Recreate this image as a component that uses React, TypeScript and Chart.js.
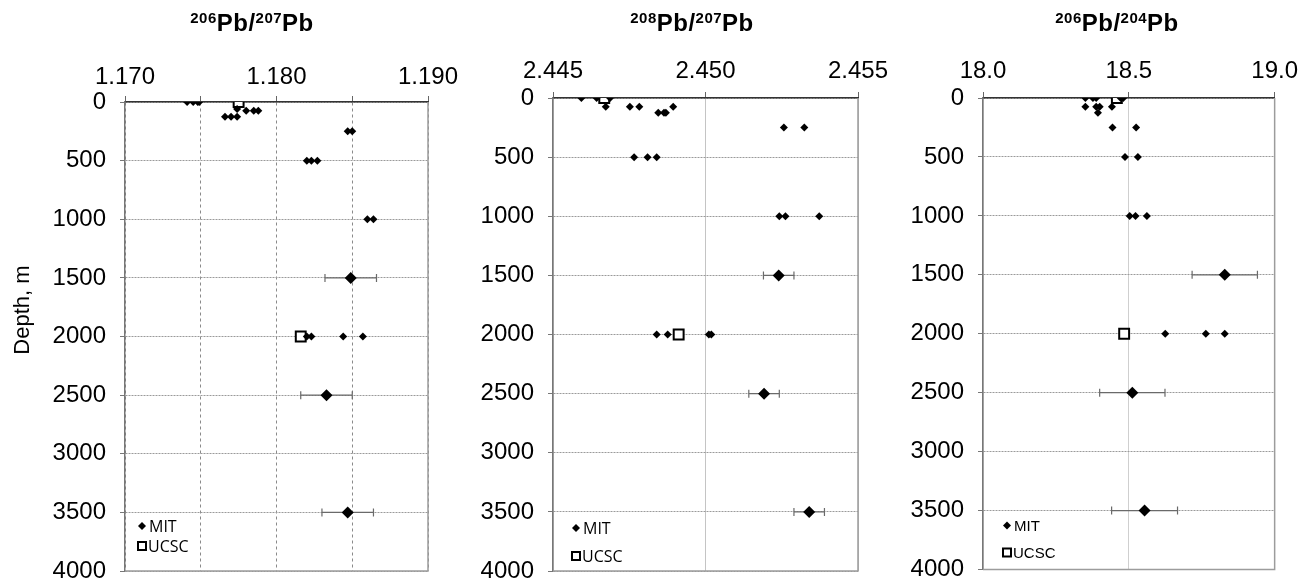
import React, { useEffect, useRef } from "react";
import { Chart, registerables } from "chart.js";

Chart.register(...registerables);

const FONT = '"Liberation Sans", Arial, Helvetica, sans-serif';
const CANVAS_H = 600;

// ---------- shared depth axis ----------
const depthTickValues = [0, 500, 1000, 1500, 2000, 2500, 3000, 3500, 4000];
const depthTickLabels = ["0", "500", "1000", "1500", "2000", "2500", "3000", "3500", "4000"];
const legendLabels = ["MIT", "UCSC"];

// ---------- Panel 1: 206Pb/207Pb ----------
const p1Isotopes = ["206", "207"];
const p1XTickValues = [1.17, 1.175, 1.18, 1.185, 1.19];
const p1XTickLabels = ["1.170", "", "1.180", "", "1.190"];
const p1MitRatio = [1.1741, 1.1745, 1.1748, 1.1749, 1.1774, 1.178, 1.1785, 1.1788, 1.1766, 1.177, 1.1774, 1.1847, 1.185, 1.182, 1.1823, 1.1827, 1.186, 1.1864, 1.182, 1.1823, 1.1844, 1.1857];
const p1MitDepth = [0, 0, 0, 0, 60, 75, 75, 75, 125, 125, 125, 250, 250, 500, 500, 500, 1000, 1000, 2000, 2000, 2000, 2000];
const p1MeanRatio = [1.1849, 1.1833, 1.1847];
const p1MeanDepth = [1500, 2500, 3500];
const p1MeanErr = [0.0017, 0.0017, 0.0017];
const p1UcscRatio = [1.1775, 1.1816];
const p1UcscDepth = [0, 2000];

// ---------- Panel 2: 208Pb/207Pb ----------
const p2Isotopes = ["208", "207"];
const p2XTickValues = [2.445, 2.45, 2.455];
const p2XTickLabels = ["2.445", "2.450", "2.455"];
const p2MitRatio = [2.44593, 2.44643, 2.44687, 2.44673, 2.44752, 2.44783, 2.44894, 2.44845, 2.44864, 2.4487, 2.45257, 2.45324, 2.44766, 2.4481, 2.4484, 2.45242, 2.45262, 2.45373, 2.4484, 2.44876, 2.45011, 2.45019];
const p2MitDepth = [0, 0, 0, 75, 75, 75, 75, 125, 125, 125, 250, 250, 500, 500, 500, 1000, 1000, 1000, 2000, 2000, 2000, 2000];
const p2MeanRatio = [2.4524, 2.45192, 2.4534];
const p2MeanDepth = [1500, 2500, 3500];
const p2MeanErr = [0.0005, 0.0005, 0.0005];
const p2UcscRatio = [2.44668, 2.44912];
const p2UcscDepth = [0, 2000];

// ---------- Panel 3: 206Pb/204Pb ----------
const p3Isotopes = ["206", "204"];
const p3XTickValues = [18.0, 18.5, 19.0];
const p3XTickLabels = ["18.0", "18.5", "19.0"];
const p3MitRatio = [18.351, 18.377, 18.388, 18.472, 18.481, 18.351, 18.388, 18.4, 18.442, 18.394, 18.444, 18.525, 18.487, 18.531, 18.503, 18.523, 18.562, 18.625, 18.764, 18.829];
const p3MitDepth = [0, 0, 0, 0, 0, 75, 75, 75, 75, 125, 250, 250, 500, 500, 1000, 1000, 1000, 2000, 2000, 2000];
const p3MeanRatio = [18.829, 18.512, 18.554];
const p3MeanDepth = [1500, 2500, 3500];
const p3MeanErr = [0.112, 0.112, 0.113];
const p3UcscRatio = [18.459, 18.484];
const p3UcscDepth = [0, 2000];

type PanelCfg = {
  isotopes: string[];
  xTickValues: number[];
  xTickLabels: string[];
  mitRatio: number[];
  mitDepth: number[];
  meanRatio: number[];
  meanDepth: number[];
  meanErr: number[];
  ucscRatio: number[];
  ucscDepth: number[];
  left: number;
  width: number;
  axisW: number;
  axisH: number;
  padR: number;
  bottom: number;
  titleX: number;
  xLabelPad: number;
  vGrid: { color: string; dash: number[]; width: number };
  legend: { dx: number; mitDy: number; ucscDy: number; font: string };
};

const panels: PanelCfg[] = [
  {
    isotopes: p1Isotopes, xTickValues: p1XTickValues, xTickLabels: p1XTickLabels,
    mitRatio: p1MitRatio, mitDepth: p1MitDepth, meanRatio: p1MeanRatio, meanDepth: p1MeanDepth,
    meanErr: p1MeanErr, ucscRatio: p1UcscRatio, ucscDepth: p1UcscDepth,
    left: 0, width: 470, axisW: 125, axisH: 102, padR: 42, bottom: 571, titleX: 252, xLabelPad: 7,
    vGrid: { color: "#8a8a8a", dash: [3, 3], width: 1 },
    legend: { dx: 17, mitDy: -45, ucscDy: -25, font: '16px "Open Sans", sans-serif' },
  },
  {
    isotopes: p2Isotopes, xTickValues: p2XTickValues, xTickLabels: p2XTickLabels,
    mitRatio: p2MitRatio, mitDepth: p2MitDepth, meanRatio: p2MeanRatio, meanDepth: p2MeanDepth,
    meanErr: p2MeanErr, ucscRatio: p2UcscRatio, ucscDepth: p2UcscDepth,
    left: 440, width: 460, axisW: 113, axisH: 98, padR: 42, bottom: 571, titleX: 692, xLabelPad: 9,
    vGrid: { color: "#c4c4c4", dash: [], width: 1 },
    legend: { dx: 23, mitDy: -43, ucscDy: -15, font: '16px "Open Sans", sans-serif' },
  },
  {
    isotopes: p3Isotopes, xTickValues: p3XTickValues, xTickLabels: p3XTickLabels,
    mitRatio: p3MitRatio, mitDepth: p3MitDepth, meanRatio: p3MeanRatio, meanDepth: p3MeanDepth,
    meanErr: p3MeanErr, ucscRatio: p3UcscRatio, ucscDepth: p3UcscDepth,
    left: 880, width: 427, axisW: 103, axisH: 98, padR: 27, bottom: 569.5, titleX: 1117, xLabelPad: 9,
    vGrid: { color: "#a0a0a0", dash: [1, 1], width: 1 },
    legend: { dx: 24, mitDy: -44, ucscDy: -17, font: '15px "Liberation Sans", Arial, sans-serif' },
  },
];

function Panel({ cfg }: { cfg: PanelCfg }) {
  const ref = useRef<HTMLCanvasElement>(null);

  useEffect(() => {
    const canvas = ref.current;
    if (!canvas) return;

    const errorBars = {
      id: "errorBars",
      beforeDatasetsDraw(chart: any) {
        const { ctx, scales } = chart;
        const xs = scales.x;
        const ys = scales.y;
        ctx.save();
        ctx.strokeStyle = "#6a6a6a";
        ctx.lineWidth = 1.2;
        for (let i = 0; i < cfg.meanRatio.length; i++) {
          const x1 = xs.getPixelForValue(cfg.meanRatio[i] - cfg.meanErr[i]);
          const x2 = xs.getPixelForValue(cfg.meanRatio[i] + cfg.meanErr[i]);
          const y = ys.getPixelForValue(cfg.meanDepth[i]);
          ctx.beginPath();
          ctx.moveTo(x1, y);
          ctx.lineTo(x2, y);
          ctx.moveTo(x1, y - 4);
          ctx.lineTo(x1, y + 4);
          ctx.moveTo(x2, y - 4);
          ctx.lineTo(x2, y + 4);
          ctx.stroke();
        }
        ctx.restore();
      },
    };

    const frame = {
      id: "frame",
      beforeDatasetsDraw(chart: any) {
        const { ctx, chartArea: a } = chart;
        ctx.save();
        ctx.strokeStyle = "#9c9c9c";
        ctx.lineWidth = 1.5;
        ctx.beginPath();
        ctx.moveTo(a.right, a.top);
        ctx.lineTo(a.right, a.bottom);
        ctx.lineTo(a.left, a.bottom);
        ctx.stroke();
        ctx.restore();
      },
    };

    const legendDraw = {
      id: "legendDraw",
      afterDatasetsDraw(chart: any) {
        const { ctx, chartArea: a } = chart;
        const lx = a.left + cfg.legend.dx;
        const my = a.bottom + cfg.legend.mitDy;
        const uy = a.bottom + cfg.legend.ucscDy;
        ctx.save();
        ctx.fillStyle = "#000";
        ctx.beginPath();
        ctx.moveTo(lx, my - 4);
        ctx.lineTo(lx + 4, my);
        ctx.lineTo(lx, my + 4);
        ctx.lineTo(lx - 4, my);
        ctx.closePath();
        ctx.fill();
        ctx.strokeStyle = "#000";
        ctx.lineWidth = 2;
        ctx.strokeRect(lx - 4, uy - 4, 8, 8);
        ctx.font = cfg.legend.font;
        ctx.textBaseline = "middle";
        ctx.textAlign = "left";
        ctx.fillText(legendLabels[0], lx + 7, my + 1);
        ctx.fillText(legendLabels[1], lx + 6, uy + 1);
        ctx.restore();
      },
    };

    const chart = new Chart(canvas, {
      type: "scatter",
      data: {
        datasets: [
          {
            label: "MIT",
            data: cfg.mitRatio.map((v, i) => ({ x: v, y: cfg.mitDepth[i] })),
            pointStyle: "rectRot",
            pointRadius: 4,
            backgroundColor: "#000",
            borderColor: "#000",
            borderWidth: 0,
            order: 1,
          },
          {
            label: "MIT mean",
            data: cfg.meanRatio.map((v, i) => ({ x: v, y: cfg.meanDepth[i] })),
            pointStyle: "rectRot",
            pointRadius: 6,
            backgroundColor: "#000",
            borderColor: "#000",
            borderWidth: 0,
            order: 0,
          },
          {
            label: "UCSC",
            data: cfg.ucscRatio.map((v, i) => ({ x: v, y: cfg.ucscDepth[i] })),
            pointStyle: "rect",
            pointRadius: 7,
            backgroundColor: "#fff",
            borderColor: "#000",
            borderWidth: 2,
            order: 2,
          },
        ],
      } as any,
      options: {
        animation: false,
        responsive: false,
        devicePixelRatio: 1,
        events: [],
        layout: { padding: { left: 0, top: 0, right: cfg.padR, bottom: CANVAS_H - cfg.bottom } },
        plugins: {
          legend: { display: false },
          tooltip: { enabled: false },
          title: { display: false },
        },
        scales: {
          x: {
            type: "linear",
            position: "top",
            min: cfg.xTickValues[0],
            max: cfg.xTickValues[cfg.xTickValues.length - 1],
            afterBuildTicks: (s: any) => {
              s.ticks = cfg.xTickValues.map((v) => ({ value: v }));
            },
            afterFit: (s: any) => {
              s.height = cfg.axisH;
            },
            ticks: {
              autoSkip: false,
              maxRotation: 0,
              minRotation: 0,
              padding: cfg.xLabelPad,
              color: "#000",
              font: { family: FONT, size: 24, lineHeight: 1 },
              callback: (_v: any, i: number) => cfg.xTickLabels[i],
            },
            grid: {
              color: cfg.vGrid.color,
              lineWidth: cfg.vGrid.width,
              drawTicks: true,
              tickLength: 6,
              tickColor: "#666",
              tickWidth: 1,
              tickBorderDash: [],
            },
            border: { display: true, color: "#333", width: 1.5, dash: cfg.vGrid.dash },
          },
          y: {
            type: "linear",
            reverse: true,
            min: 0,
            max: 4000,
            afterBuildTicks: (s: any) => {
              s.ticks = depthTickValues.map((v) => ({ value: v }));
            },
            afterFit: (s: any) => {
              s.width = cfg.axisW;
            },
            ticks: {
              autoSkip: false,
              padding: 14,
              color: "#000",
              font: { family: FONT, size: 24, lineHeight: 1 },
              callback: (_v: any, i: number) => depthTickLabels[i],
            },
            grid: {
              color: "#9a9a9a",
              lineWidth: 1,
              drawTicks: true,
              tickLength: 5,
              tickColor: "#777",
              tickWidth: 1,
              tickBorderDash: [],
            },
            border: { display: true, color: "#777", width: 1.5, dash: [2, 1] },
          },
        },
      } as any,
      plugins: [frame, errorBars, legendDraw],
    });

    return () => chart.destroy();
  }, [cfg]);

  return (
    <canvas
      ref={ref}
      width={cfg.width}
      height={CANVAS_H}
      style={{ position: "absolute", left: cfg.left, top: 0, width: cfg.width, height: CANVAS_H }}
    />
  );
}

function Title({ cfg }: { cfg: PanelCfg }) {
  const sup: React.CSSProperties = { fontSize: 15, position: "relative", top: -8 };
  return (
    <div
      style={{
        position: "absolute",
        left: cfg.titleX - 120,
        width: 240,
        top: 12,
        textAlign: "center",
        fontFamily: FONT,
        fontWeight: "bold",
        fontSize: 24,
        lineHeight: "22px",
        letterSpacing: "0.5px",
        color: "#000",
        whiteSpace: "nowrap",
      }}
    >
      <span style={sup}>{cfg.isotopes[0]}</span>Pb/<span style={sup}>{cfg.isotopes[1]}</span>Pb
    </div>
  );
}

export default function App() {
  return (
    <div
      style={{
        position: "absolute",
        left: 0,
        top: 0,
        width: 1307,
        height: 583,
        overflow: "hidden",
        background: "#fff",
      }}
    >
      {panels.map((p, i) => (
        <Panel key={i} cfg={p} />
      ))}
      {panels.map((p, i) => (
        <Title key={"t" + i} cfg={p} />
      ))}
      <div
        style={{
          position: "absolute",
          left: 22 - 100,
          top: 310 - 13,
          width: 200,
          height: 26,
          lineHeight: "26px",
          textAlign: "center",
          fontFamily: FONT,
          fontSize: 22,
          color: "#000",
          transform: "rotate(-90deg)",
          transformOrigin: "50% 50%",
          whiteSpace: "nowrap",
        }}
      >
        Depth, m
      </div>
    </div>
  );
}
